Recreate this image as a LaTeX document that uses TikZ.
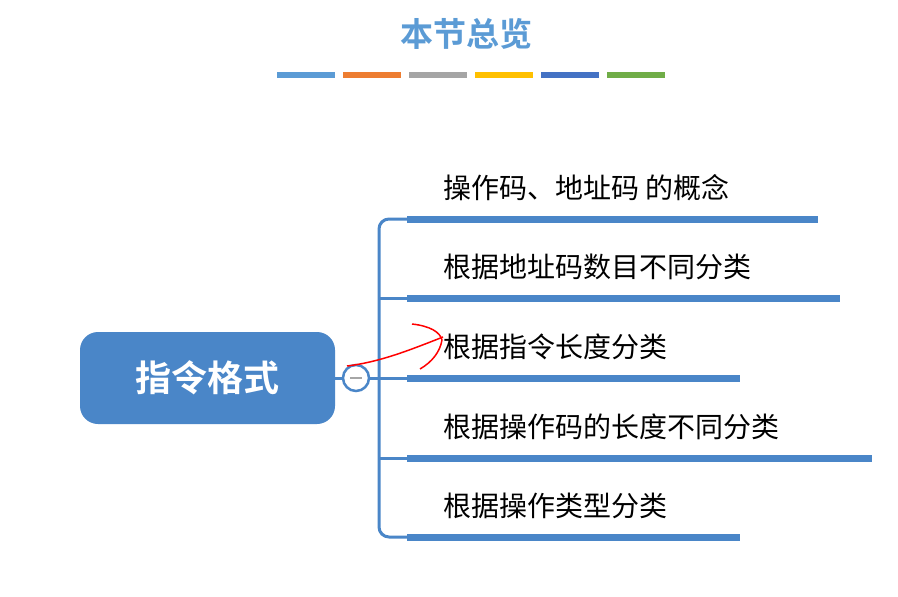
\documentclass[tikz,border=0pt]{standalone}
\usepackage{fontspec}
\newfontfamily\cjk{Noto Sans CJK SC}
\newfontfamily\cjkb{Noto Sans CJK SC Bold}
\definecolor{mblue}{HTML}{4A86C8}
\definecolor{tblue}{HTML}{5B9BD5}
\definecolor{bor}{HTML}{ED7D31}
\definecolor{bgr}{HTML}{A5A5A5}
\definecolor{bye}{HTML}{FFC000}
\definecolor{bdb}{HTML}{4472C4}
\definecolor{bgn}{HTML}{70AD47}
\tikzset{
  ul/.style={mblue,line width=7pt},
  br/.style={mblue,line width=3pt},
  item/.style={anchor=west,font=\cjk\fontsize{28}{28}\selectfont,inner sep=0pt},
  cbar/.style={line width=6pt},
}
\begin{document}
\begin{tikzpicture}[x=1pt,y=-1pt]
\useasboundingbox (0,0) rectangle (898,597);
\fill[white] (0,0) rectangle (898,597);
\node[font=\cjkb\fontsize{33}{33}\selectfont,text=tblue] (title) at (466,34) {本节总览};
\foreach \c/\a in {tblue/277,bor/343,bgr/409,bye/475,bdb/541,bgn/607}
  \draw[cbar,\c] (\a,75) -- ++(58,0);
\node[fill=mblue,rounded corners=18pt,minimum width=255pt,minimum height=92pt,
  text=white,font=\cjkb\fontsize{36}{36}\selectfont] (root) at (207.5,378) {指令格式};
\coordinate (j) at (379,378);
\foreach \i/\y/\e/\t in {1/219/818/操作码、地址码 的概念,2/298/840/根据地址码数目不同分类,3/378/740/根据指令长度分类,4/458/872/根据操作码的长度不同分类,5/537/740/根据操作类型分类}{
  \coordinate (s\i) at (407,\y);
  \coordinate (e\i) at (\e,\y);
  \draw[ul] (s\i) -- (e\i);
  \node[item] (t\i) at (443,\y-31) {\t};
}
\draw[br,rounded corners=10pt] (s1) -- (379,219) -- (379,537) -- (s5);
\draw[br] (379,298) -- (s2);
\draw[br] (379,458) -- (s4);
\draw[br] (root.east) -- (j) -- (s3);
\node[circle,draw=mblue,line width=2.5pt,fill=white,minimum size=26pt,inner sep=0pt] (btn) at (356,378) {};
\draw[gray!70,line width=2.5pt] (350,378) -- (362,378);
\draw[red,line width=1.5pt] (347,366) .. controls (380,362) and (410,350) .. (443,337);
\draw[red,line width=1.5pt] (412,324) .. controls (430,326) and (440,332) .. (442,340);
\draw[red,line width=1.5pt] (420,369) .. controls (432,362) and (440,352) .. (442,340);
\end{tikzpicture}
\end{document}
